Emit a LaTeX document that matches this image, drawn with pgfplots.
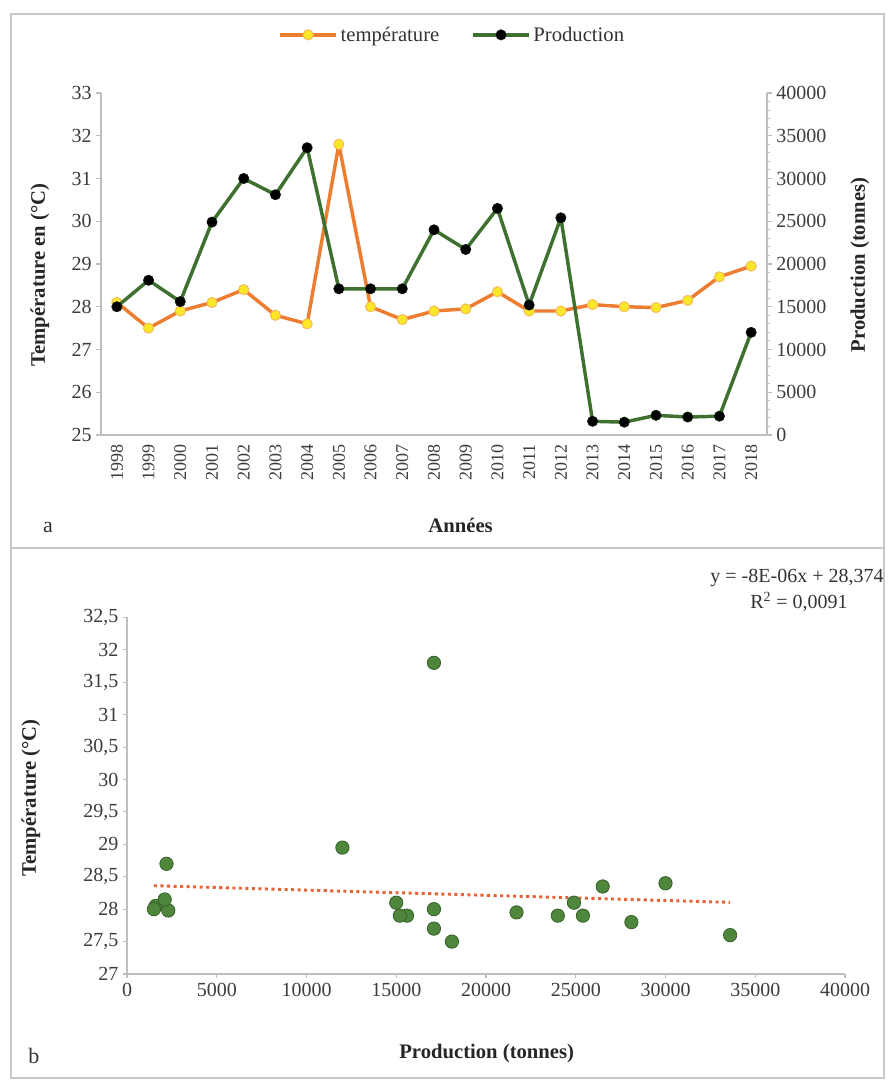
\documentclass[border=0pt]{standalone}
\usepackage{fontspec}
\setmainfont{Liberation Serif}
\usepackage{pgfplots}
\usepackage{pgfplotstable}
\pgfplotsset{compat=1.18}

\definecolor{templine}{RGB}{237,125,49}
\definecolor{tempfill}{RGB}{250,232,40}
\definecolor{tempedge}{RGB}{245,190,90}
\definecolor{prodline}{RGB}{62,112,48}
\definecolor{scfill}{RGB}{78,135,60}
\definecolor{scedge}{RGB}{55,95,42}
\definecolor{trend}{RGB}{228,100,55}
\definecolor{axgray}{RGB}{190,190,190}
\definecolor{framegray}{RGB}{200,200,200}
\definecolor{ticktext}{RGB}{60,60,60}

% Yearly mean temperature (°C) and production (tonnes)
\pgfplotstableread{
year temp  prod
1998 28.10 15000
1999 27.50 18100
2000 27.90 15600
2001 28.10 24900
2002 28.40 30000
2003 27.80 28100
2004 27.60 33600
2005 31.80 17100
2006 28.00 17100
2007 27.70 17100
2008 27.90 24000
2009 27.95 21700
2010 28.35 26500
2011 27.90 15200
2012 27.90 25400
2013 28.05 1600
2014 28.00 1500
2015 27.98 2300
2016 28.15 2100
2017 28.70 2200
2018 28.95 12000
}\data

\pgfplotsset{
  tempstyle/.style={color=templine, line width=2.6pt, line join=round, mark=*, mark size=3.8pt,
    mark options={fill=tempfill, draw=tempedge, line width=0.8pt}},
  prodstyle/.style={color=prodline, line width=2.6pt, line join=round, mark=*, mark size=3.8pt,
    mark options={fill=black, draw=black!80!prodline, line width=0.6pt}},
  common/.style={
    scale only axis,
    scaled ticks=false,
    axis line style={draw=axgray, line width=0.9pt, -},
    tick style={draw=axgray, line width=0.8pt},
    tick label style={font=\fontsize{15}{17}\selectfont, text=ticktext},
    label style={font=\fontsize{15.5}{18}\selectfont\bfseries, text=black!85},
    /pgf/number format/assume math mode=true,
    /pgf/number format/1000 sep={},
  },
}

\begin{document}
\begin{tikzpicture}[x=0.75pt,y=0.75pt]
\path (0,0) rectangle (893,1080);

% panel frames
\draw[framegray, line width=1.5pt] (11,2) rectangle (884,1066);
\draw[framegray, line width=1.5pt] (11,532) -- (884,532);

% ---------- (a) time series, temperature on the left axis ----------
\begin{axis}[common,
  at={(75.75pt,483.75pt)}, anchor=south west,
  width=499.5pt, height=256.5pt,
  xmin=-0.5, xmax=20.5, ymin=25, ymax=33,
  axis x line*=bottom, axis y line*=left,
  xtick={0,...,20},
  xticklabels={1998,1999,2000,2001,2002,2003,2004,2005,2006,2007,2008,2009,2010,2011,2012,2013,2014,2015,2016,2017,2018},
  x tick label style={rotate=90, anchor=east, font=\fontsize{13.5}{15}\selectfont},
  major x tick style={draw=none},
  ytick={25,...,33},
  tick align=outside, major tick length=3.5pt,
  xlabel={Années},
  xlabel style={at={(axis description cs:0.54,-0.265)}, anchor=center},
  ylabel={Température en (°C)},
  ylabel style={at={(axis description cs:-0.0916,0.468)}, anchor=center},
]
\addplot[tempstyle] table[x expr=\coordindex, y=temp]{\data};
\end{axis}

% production on the right axis
\begin{axis}[common,
  at={(75.75pt,483.75pt)}, anchor=south west,
  width=499.5pt, height=256.5pt,
  xmin=-0.5, xmax=20.5, ymin=0, ymax=40000,
  axis x line=none, axis y line*=right,
  ytick={0,5000,...,40000},
  minor y tick num=4,
  tick align=outside, major tick length=3.5pt, minor tick length=2pt,
  ylabel={Production (tonnes)},
  ylabel style={at={(axis description cs:1.1396,0.497)}, anchor=center},
  legend style={at={(axis description cs:0.528,1.17)}, anchor=center,
    draw=none, fill=none, legend columns=2,
    font=\fontsize{15.5}{18}\selectfont, text=black!80,
    /tikz/every even column/.append style={column sep=22pt}},
  legend image code/.code={\draw[mark repeat=2, mark phase=2, #1]
    plot coordinates {(0pt,0pt) (21pt,0pt) (42pt,0pt)};},
]
\addlegendimage{tempstyle}
\addlegendentry{température}
\addplot[prodstyle] table[x expr=\coordindex, y=prod]{\data};
\addlegendentry{Production}
\end{axis}

% ---------- (b) temperature against production ----------
\begin{axis}[common,
  at={(95.25pt,79.5pt)}, anchor=south west,
  width=538.5pt, height=267.4pt,
  xmin=0, xmax=40000, ymin=27, ymax=32.5,
  axis x line*=bottom, axis y line*=left,
  xtick={0,5000,...,40000},
  ytick={27,27.5,...,32.5},
  /pgf/number format/use comma,
  /pgf/number format/1000 sep={},
  tick align=outside, major tick length=3pt,
  xlabel={Production (tonnes)},
  xlabel style={at={(axis description cs:0.501,-0.222)}, anchor=center},
  ylabel={Température (°C)},
  ylabel style={at={(axis description cs:-0.134,0.494)}, anchor=center},
]
\addplot[only marks, mark=*, mark size=5pt,
  mark options={fill=scfill, draw=scedge, line width=0.6pt}]
  table[x=prod, y=temp]{\data};
% linear trend y = -8E-06x + 28,374
\addplot[trend, line width=2.2pt, dash pattern=on 2.3pt off 2.6pt]
  coordinates {(1500,28.362) (33600,28.105)};
\end{axis}

\node[font=\fontsize{15}{17}\selectfont, text=black!80] at (797,502) {y = -8E-06x + 28,374};
\node[font=\fontsize{15}{17}\selectfont, text=black!80] at (799,478) {R\textsuperscript{2} = 0,0091};

\node[font=\fontsize{16.5}{18}\selectfont, text=black!80] at (48,553) {a};
\node[font=\fontsize{16.5}{18}\selectfont, text=black!80] at (34,24) {b};

\pgfresetboundingbox
\useasboundingbox (0,0) rectangle (893,1080);
\end{tikzpicture}
\end{document}
